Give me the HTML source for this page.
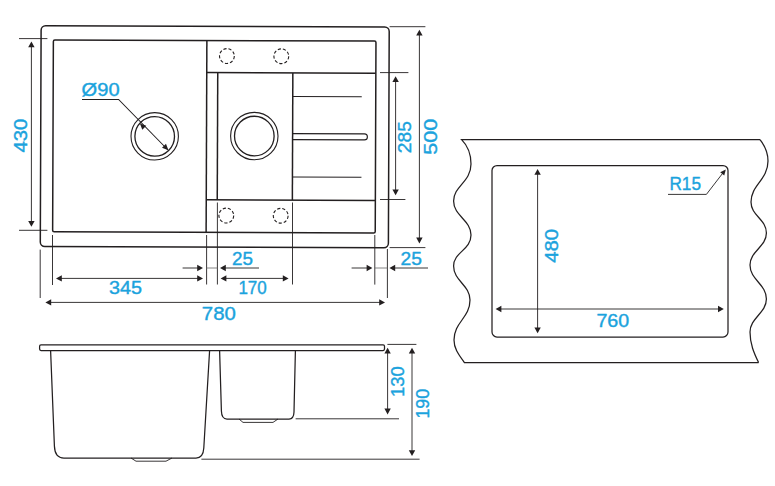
<!DOCTYPE html>
<html><head><meta charset="utf-8"><title>Sink dimensions</title>
<style>
html,body{margin:0;padding:0;background:#fff;}
svg{display:block;}
text{font-family:"Liberation Sans",sans-serif;}
</style></head>
<body>
<svg width="775" height="486" viewBox="0 0 775 486">
<rect width="775" height="486" fill="#ffffff"/>
<g transform="rotate(0.22 214.7 136.6)" fill="none" stroke="#231f20" stroke-width="1.50">
<rect x="40.7" y="26.3" width="348.1" height="220.8" rx="4.5"/>
<rect x="53" y="40.5" width="322.6" height="191.8" rx="1.5"/>
<line x1="206.5" y1="40.5" x2="206.5" y2="232.3"/>
<line x1="206.5" y1="72.6" x2="375.6" y2="72.6"/>
<line x1="206.5" y1="199.8" x2="375.6" y2="199.8"/>
<line x1="217.5" y1="72.6" x2="217.5" y2="199.8"/>
<line x1="292.6" y1="72.6" x2="292.6" y2="199.8"/>
<line x1="292.6" y1="96.3" x2="361.6" y2="96.3" stroke-width="1"/>
<line x1="292.6" y1="176.6" x2="361.6" y2="176.6" stroke-width="1"/>
<path d="M292.6 133.3 H364.4 A3 3 0 0 1 364.4 139.3 H292.6" stroke-width="1.1"/>
<circle cx="154.7" cy="136.6" r="23.7" stroke-width="1.1"/>
<circle cx="154.7" cy="136.6" r="19.8" stroke-width="1.3"/>
<circle cx="254.3" cy="135.9" r="23.7" stroke-width="1.1"/>
<circle cx="254.3" cy="135.9" r="19.8" stroke-width="1.3"/>
<circle cx="226.6" cy="56.0" r="7.4" stroke-width="1.1" stroke-dasharray="3.2 1.97"/>
<circle cx="281.0" cy="56.0" r="7.4" stroke-width="1.1" stroke-dasharray="3.2 1.97"/>
<circle cx="226.6" cy="215.5" r="7.4" stroke-width="1.1" stroke-dasharray="3.2 1.97"/>
<circle cx="281.0" cy="215.5" r="7.4" stroke-width="1.1" stroke-dasharray="3.2 1.97"/>
</g>
<line x1="19.0" y1="38.6" x2="47.4" y2="38.6" stroke="#231f20" stroke-width="0.90" />
<line x1="19.0" y1="230.3" x2="47.4" y2="230.3" stroke="#231f20" stroke-width="0.90" />
<line x1="31.4" y1="43.0" x2="31.4" y2="225.0" stroke="#231f20" stroke-width="0.90" />
<polygon points="31.4,41.4 28.2,47.2 34.6,47.2" fill="#231f20"/>
<polygon points="31.4,226.8 28.2,221.0 34.6,221.0" fill="#231f20"/>
<text x="26.6" y="152.5" font-size="18.6" textLength="33.8" lengthAdjust="spacingAndGlyphs" fill="#1ba3dd" stroke="#1ba3dd" stroke-width="0.4" stroke-linejoin="round" transform="rotate(-90 26.6 152.5)">430</text>
<line x1="389.6" y1="26.7" x2="425.4" y2="26.7" stroke="#231f20" stroke-width="0.90" />
<line x1="389.6" y1="247.6" x2="425.4" y2="247.6" stroke="#231f20" stroke-width="0.90" />
<line x1="419.4" y1="32.0" x2="419.4" y2="241.0" stroke="#231f20" stroke-width="0.90" />
<polygon points="419.4,29.8 416.2,35.6 422.6,35.6" fill="#231f20"/>
<polygon points="419.4,243.4 416.2,237.6 422.6,237.6" fill="#231f20"/>
<text x="437.0" y="154.7" font-size="18.6" textLength="36.0" lengthAdjust="spacingAndGlyphs" fill="#1ba3dd" stroke="#1ba3dd" stroke-width="0.4" stroke-linejoin="round" transform="rotate(-90 437.0 154.7)">500</text>
<line x1="380.0" y1="72.6" x2="408.4" y2="72.6" stroke="#231f20" stroke-width="0.90" />
<line x1="380.0" y1="199.5" x2="405.4" y2="199.5" stroke="#231f20" stroke-width="0.90" />
<line x1="395.6" y1="78.0" x2="395.6" y2="193.0" stroke="#231f20" stroke-width="0.90" />
<polygon points="395.6,76.2 392.4,82.0 398.8,82.0" fill="#231f20"/>
<polygon points="395.6,195.2 392.4,189.4 398.8,189.4" fill="#231f20"/>
<text x="411.0" y="153.2" font-size="18.6" textLength="32.0" lengthAdjust="spacingAndGlyphs" fill="#1ba3dd" stroke="#1ba3dd" stroke-width="0.4" stroke-linejoin="round" transform="rotate(-90 411.0 153.2)">285</text>
<text x="81.6" y="96.4" font-size="18.6" textLength="38.0" lengthAdjust="spacingAndGlyphs" fill="#1ba3dd" stroke="#1ba3dd" stroke-width="0.4" stroke-linejoin="round">Ø90</text>
<path d="M82 99.4 H118.6 L168 150" fill="none" stroke="#231f20" stroke-width="1.05"/>
<g transform="translate(139.9 123.4) rotate(-135)"><polygon points="0,0 -6.2,-2.8 -6.2,2.8" fill="#231f20"/></g>
<g transform="translate(168.4 150.2) rotate(45)"><polygon points="0,0 -6.2,-2.8 -6.2,2.8" fill="#231f20"/></g>
<line x1="40.2" y1="249.6" x2="40.2" y2="298.0" stroke="#231f20" stroke-width="0.90" />
<line x1="52.5" y1="235.0" x2="52.5" y2="285.0" stroke="#231f20" stroke-width="0.90" />
<line x1="206.6" y1="235.0" x2="206.6" y2="284.5" stroke="#231f20" stroke-width="0.90" />
<line x1="217.4" y1="202.5" x2="217.4" y2="284.5" stroke="#231f20" stroke-width="0.90" />
<line x1="292.5" y1="202.5" x2="292.5" y2="284.5" stroke="#231f20" stroke-width="0.90" />
<line x1="374.8" y1="235.0" x2="374.8" y2="284.6" stroke="#231f20" stroke-width="0.90" />
<line x1="387.4" y1="249.0" x2="387.4" y2="298.0" stroke="#231f20" stroke-width="0.90" />
<line x1="182.6" y1="268.0" x2="200.0" y2="268.0" stroke="#231f20" stroke-width="0.90" />
<polygon points="203.0,268.0 197.2,264.8 197.2,271.2" fill="#231f20"/>
<line x1="206.6" y1="268.0" x2="217.4" y2="268.0" stroke="#666" stroke-width="0.80" />
<polygon points="220.0,268.0 225.8,264.8 225.8,271.2" fill="#231f20"/>
<line x1="223.0" y1="268.0" x2="259.0" y2="268.0" stroke="#231f20" stroke-width="0.90" />
<text x="232.0" y="264.8" font-size="18.6" textLength="21.0" lengthAdjust="spacingAndGlyphs" fill="#1ba3dd" stroke="#1ba3dd" stroke-width="0.4" stroke-linejoin="round">25</text>
<line x1="351.6" y1="268.0" x2="369.0" y2="268.0" stroke="#231f20" stroke-width="0.90" />
<polygon points="372.4,268.0 366.6,264.8 366.6,271.2" fill="#231f20"/>
<line x1="374.8" y1="268.0" x2="387.4" y2="268.0" stroke="#666" stroke-width="0.80" />
<polygon points="389.4,268.0 395.2,264.8 395.2,271.2" fill="#231f20"/>
<line x1="392.0" y1="268.0" x2="428.0" y2="268.0" stroke="#231f20" stroke-width="0.90" />
<text x="400.6" y="264.8" font-size="18.6" textLength="21.4" lengthAdjust="spacingAndGlyphs" fill="#1ba3dd" stroke="#1ba3dd" stroke-width="0.4" stroke-linejoin="round">25</text>
<line x1="58.0" y1="278.4" x2="201.0" y2="278.4" stroke="#231f20" stroke-width="0.90" />
<polygon points="56.0,278.4 61.8,275.2 61.8,281.6" fill="#231f20"/>
<polygon points="203.0,278.4 197.2,275.2 197.2,281.6" fill="#231f20"/>
<text x="109.0" y="294.4" font-size="18.6" textLength="33.0" lengthAdjust="spacingAndGlyphs" fill="#1ba3dd" stroke="#1ba3dd" stroke-width="0.4" stroke-linejoin="round">345</text>
<line x1="223.0" y1="278.4" x2="286.0" y2="278.4" stroke="#231f20" stroke-width="0.90" />
<polygon points="220.6,278.4 226.4,275.2 226.4,281.6" fill="#231f20"/>
<polygon points="288.6,278.4 282.8,275.2 282.8,281.6" fill="#231f20"/>
<text x="238.4" y="294.4" font-size="18.6" textLength="28.4" lengthAdjust="spacingAndGlyphs" fill="#1ba3dd" stroke="#1ba3dd" stroke-width="0.4" stroke-linejoin="round">170</text>
<line x1="48.0" y1="302.4" x2="382.0" y2="302.4" stroke="#231f20" stroke-width="0.90" />
<polygon points="45.4,302.4 51.2,299.2 51.2,305.6" fill="#231f20"/>
<polygon points="385.0,302.4 379.2,299.2 379.2,305.6" fill="#231f20"/>
<text x="201.8" y="320.3" font-size="18.6" textLength="34.0" lengthAdjust="spacingAndGlyphs" fill="#1ba3dd" stroke="#1ba3dd" stroke-width="0.4" stroke-linejoin="round">780</text>
<g fill="none" stroke="#231f20" stroke-width="1.25" stroke-linejoin="round">
<rect x="39.6" y="344.9" width="344.9" height="5.6" rx="1.4"/>
<path d="M50.6 350.5 L54.4 446 Q54.8 458 64 458 H196 Q203.2 458 203.8 448 L209.6 350.5"/>
<path d="M131 458 L136 461.2 H166 L172 458" stroke-width="0.9"/>
<path d="M219.6 350.5 L221.4 411 Q221.6 419 227 419 H289 Q293.8 419 294 412 L295.4 350.5"/>
<path d="M239 419 L243 422.4 H273 L278 419" stroke-width="0.9"/>
</g>
<line x1="387.4" y1="344.4" x2="416.4" y2="344.4" stroke="#231f20" stroke-width="0.90" />
<line x1="295.6" y1="418.8" x2="399.0" y2="418.8" stroke="#231f20" stroke-width="0.90" />
<line x1="201.4" y1="459.2" x2="419.6" y2="459.2" stroke="#231f20" stroke-width="0.90" />
<line x1="387.6" y1="352.0" x2="387.6" y2="411.0" stroke="#231f20" stroke-width="0.90" />
<polygon points="387.6,347.8 384.4,353.6 390.8,353.6" fill="#231f20"/>
<polygon points="387.6,414.4 384.4,408.6 390.8,408.6" fill="#231f20"/>
<line x1="412.0" y1="352.0" x2="412.0" y2="452.0" stroke="#231f20" stroke-width="0.90" />
<polygon points="412.0,347.8 408.8,353.6 415.2,353.6" fill="#231f20"/>
<polygon points="412.0,456.0 408.8,450.2 415.2,450.2" fill="#231f20"/>
<text x="404.2" y="397.0" font-size="18.6" textLength="30.6" lengthAdjust="spacingAndGlyphs" fill="#1ba3dd" stroke="#1ba3dd" stroke-width="0.4" stroke-linejoin="round" transform="rotate(-90 404.2 397.0)">130</text>
<text x="428.8" y="418.6" font-size="18.6" textLength="29.8" lengthAdjust="spacingAndGlyphs" fill="#1ba3dd" stroke="#1ba3dd" stroke-width="0.4" stroke-linejoin="round" transform="rotate(-90 428.8 418.6)">190</text>
<g fill="none" stroke="#231f20" stroke-width="1.25" stroke-linejoin="miter">
<path d="M760 139.6 H461.6 C468 146 471 155 471 164 C471 182 453.6 186 453.6 201 C453.6 216 471 220 471 235 C471 250 453.6 252 453.6 266 C453.6 281 470 285 470 300 C470 318 454 322 454 340 C454 349 459 355 464.4 362.6 H758.6"/>
<path d="M760 139.6 C765 146 768 153 768 161 C768 180 751 185 751 202 C751 216 766.4 219 766.4 233 C766.4 247 750 251 750 265 C750 280 766.4 284 766.4 299 C766.4 313 750 318 750 332 C750 344 754 353 758.6 362.6"/>
<rect x="492" y="165.6" width="236" height="171.4" rx="5"/>
</g>
<line x1="537.6" y1="173.0" x2="537.6" y2="329.0" stroke="#231f20" stroke-width="0.90" />
<polygon points="537.6,169.0 534.4,174.8 540.8,174.8" fill="#231f20"/>
<polygon points="537.6,333.2 534.4,327.4 540.8,327.4" fill="#231f20"/>
<text x="558.4" y="262.8" font-size="18.6" textLength="34.0" lengthAdjust="spacingAndGlyphs" fill="#1ba3dd" stroke="#1ba3dd" stroke-width="0.4" stroke-linejoin="round" transform="rotate(-90 558.4 262.8)">480</text>
<line x1="499.0" y1="309.0" x2="720.0" y2="309.0" stroke="#231f20" stroke-width="0.90" />
<polygon points="495.6,309.0 501.4,305.8 501.4,312.2" fill="#231f20"/>
<polygon points="723.8,309.0 718.0,305.8 718.0,312.2" fill="#231f20"/>
<text x="596.4" y="327.1" font-size="18.6" textLength="32.8" lengthAdjust="spacingAndGlyphs" fill="#1ba3dd" stroke="#1ba3dd" stroke-width="0.4" stroke-linejoin="round">760</text>
<text x="669.4" y="189.5" font-size="18.6" textLength="31.6" lengthAdjust="spacingAndGlyphs" fill="#1ba3dd" stroke="#1ba3dd" stroke-width="0.4" stroke-linejoin="round">R15</text>
<path d="M668 194.4 H706.4 L723.5 172.2" fill="none" stroke="#231f20" stroke-width="0.90"/>
<g transform="translate(725.8 169.4) rotate(-52)"><polygon points="0,0 -5.8,-2.6 -5.8,2.6" fill="#231f20"/></g>
</svg>
</body></html>
